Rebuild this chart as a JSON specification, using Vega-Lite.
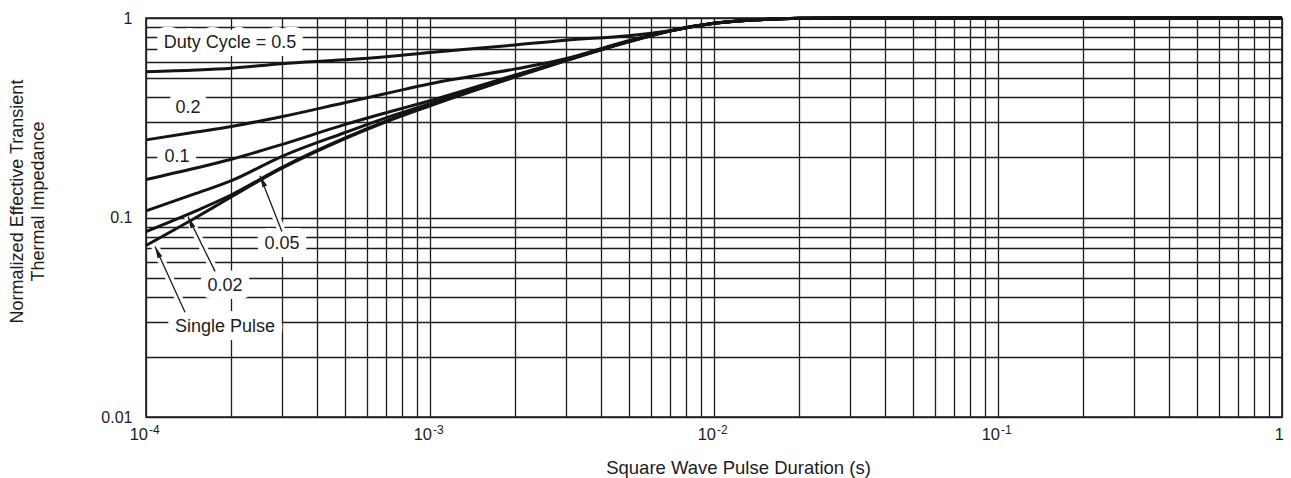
{
  "$schema": "https://vega.github.io/schema/vega-lite/v6.json",
  "width": 1136,
  "height": 399,
  "autosize": {"type": "none"},
  "padding": {"left": 146, "top": 18, "right": 9, "bottom": 61},
  "background": "white",
  "config": {
    "font": "Liberation Sans",
    "view": {"stroke": "#1c1c1c", "strokeWidth": 1.6},
    "axis": {
      "grid": true,
      "gridColor": "#1c1c1c",
      "gridWidth": 1.3,
      "gridOpacity": 1,
      "ticks": false,
      "domain": false,
      "labelFont": "Liberation Sans",
      "labelFontSize": 16,
      "labelColor": "#1c1c1c",
      "labelOverlap": false,
      "labelBound": false,
      "labelFlush": false,
      "titleFont": "Liberation Sans",
      "titleFontWeight": "normal",
      "titleColor": "#1c1c1c"
    }
  },
  "datasets": {
    "curves": [
      {"t": 0.0001, "z": 0.537, "duty": "0.5"},
      {"t": 0.00015, "z": 0.548, "duty": "0.5"},
      {"t": 0.0002, "z": 0.56, "duty": "0.5"},
      {"t": 0.0003, "z": 0.59, "duty": "0.5"},
      {"t": 0.0005, "z": 0.617, "duty": "0.5"},
      {"t": 0.0007, "z": 0.64, "duty": "0.5"},
      {"t": 0.001, "z": 0.672, "duty": "0.5"},
      {"t": 0.002, "z": 0.733, "duty": "0.5"},
      {"t": 0.003, "z": 0.774, "duty": "0.5"},
      {"t": 0.005, "z": 0.815, "duty": "0.5"},
      {"t": 0.007, "z": 0.864, "duty": "0.5"},
      {"t": 0.01, "z": 0.94, "duty": "0.5"},
      {"t": 0.015, "z": 0.983, "duty": "0.5"},
      {"t": 0.02, "z": 0.996, "duty": "0.5"},
      {"t": 0.03, "z": 1, "duty": "0.5"},
      {"t": 1, "z": 1, "duty": "0.5"},

      {"t": 0.0001, "z": 0.245, "duty": "0.2"},
      {"t": 0.00015, "z": 0.268, "duty": "0.2"},
      {"t": 0.0002, "z": 0.286, "duty": "0.2"},
      {"t": 0.0003, "z": 0.32, "duty": "0.2"},
      {"t": 0.0005, "z": 0.376, "duty": "0.2"},
      {"t": 0.0007, "z": 0.418, "duty": "0.2"},
      {"t": 0.001, "z": 0.468, "duty": "0.2"},
      {"t": 0.002, "z": 0.556, "duty": "0.2"},
      {"t": 0.003, "z": 0.625, "duty": "0.2"},
      {"t": 0.005, "z": 0.77, "duty": "0.2"},
      {"t": 0.007, "z": 0.862, "duty": "0.2"},
      {"t": 0.01, "z": 0.94, "duty": "0.2"},
      {"t": 0.015, "z": 0.983, "duty": "0.2"},
      {"t": 0.02, "z": 0.996, "duty": "0.2"},
      {"t": 0.03, "z": 1, "duty": "0.2"},
      {"t": 1, "z": 1, "duty": "0.2"},

      {"t": 0.0001, "z": 0.155, "duty": "0.1"},
      {"t": 0.00015, "z": 0.177, "duty": "0.1"},
      {"t": 0.0002, "z": 0.196, "duty": "0.1"},
      {"t": 0.0003, "z": 0.232, "duty": "0.1"},
      {"t": 0.0005, "z": 0.292, "duty": "0.1"},
      {"t": 0.0007, "z": 0.335, "duty": "0.1"},
      {"t": 0.001, "z": 0.385, "duty": "0.1"},
      {"t": 0.002, "z": 0.519, "duty": "0.1"},
      {"t": 0.003, "z": 0.615, "duty": "0.1"},
      {"t": 0.005, "z": 0.765, "duty": "0.1"},
      {"t": 0.007, "z": 0.862, "duty": "0.1"},
      {"t": 0.01, "z": 0.94, "duty": "0.1"},
      {"t": 0.015, "z": 0.983, "duty": "0.1"},
      {"t": 0.02, "z": 0.996, "duty": "0.1"},
      {"t": 0.03, "z": 1, "duty": "0.1"},
      {"t": 1, "z": 1, "duty": "0.1"},

      {"t": 0.0001, "z": 0.108, "duty": "0.05"},
      {"t": 0.00015, "z": 0.132, "duty": "0.05"},
      {"t": 0.0002, "z": 0.153, "duty": "0.05"},
      {"t": 0.0003, "z": 0.202, "duty": "0.05"},
      {"t": 0.0005, "z": 0.266, "duty": "0.05"},
      {"t": 0.0007, "z": 0.316, "duty": "0.05"},
      {"t": 0.001, "z": 0.372, "duty": "0.05"},
      {"t": 0.002, "z": 0.513, "duty": "0.05"},
      {"t": 0.003, "z": 0.613, "duty": "0.05"},
      {"t": 0.005, "z": 0.763, "duty": "0.05"},
      {"t": 0.007, "z": 0.861, "duty": "0.05"},
      {"t": 0.01, "z": 0.94, "duty": "0.05"},
      {"t": 0.015, "z": 0.983, "duty": "0.05"},
      {"t": 0.02, "z": 0.996, "duty": "0.05"},
      {"t": 0.03, "z": 1, "duty": "0.05"},
      {"t": 1, "z": 1, "duty": "0.05"},

      {"t": 0.0001, "z": 0.085, "duty": "0.02"},
      {"t": 0.00015, "z": 0.108, "duty": "0.02"},
      {"t": 0.0002, "z": 0.13, "duty": "0.02"},
      {"t": 0.0003, "z": 0.178, "duty": "0.02"},
      {"t": 0.0005, "z": 0.25, "duty": "0.02"},
      {"t": 0.0007, "z": 0.304, "duty": "0.02"},
      {"t": 0.001, "z": 0.365, "duty": "0.02"},
      {"t": 0.002, "z": 0.508, "duty": "0.02"},
      {"t": 0.003, "z": 0.611, "duty": "0.02"},
      {"t": 0.005, "z": 0.76, "duty": "0.02"},
      {"t": 0.007, "z": 0.861, "duty": "0.02"},
      {"t": 0.01, "z": 0.94, "duty": "0.02"},
      {"t": 0.015, "z": 0.983, "duty": "0.02"},
      {"t": 0.02, "z": 0.996, "duty": "0.02"},
      {"t": 0.03, "z": 1, "duty": "0.02"},
      {"t": 1, "z": 1, "duty": "0.02"},

      {"t": 0.0001, "z": 0.0724, "duty": "single"},
      {"t": 0.00015, "z": 0.1, "duty": "single"},
      {"t": 0.0002, "z": 0.127, "duty": "single"},
      {"t": 0.0003, "z": 0.176, "duty": "single"},
      {"t": 0.0005, "z": 0.248, "duty": "single"},
      {"t": 0.0007, "z": 0.302, "duty": "single"},
      {"t": 0.001, "z": 0.363, "duty": "single"},
      {"t": 0.002, "z": 0.507, "duty": "single"},
      {"t": 0.003, "z": 0.61, "duty": "single"},
      {"t": 0.005, "z": 0.759, "duty": "single"},
      {"t": 0.007, "z": 0.861, "duty": "single"},
      {"t": 0.01, "z": 0.94, "duty": "single"},
      {"t": 0.015, "z": 0.983, "duty": "single"},
      {"t": 0.02, "z": 0.996, "duty": "single"},
      {"t": 0.03, "z": 1, "duty": "single"},
      {"t": 1, "z": 1, "duty": "single"}
    ],
    "arrows": [
      {"t": 0.000252, "z": 0.162, "t2": 0.000301, "z2": 0.0851},
      {"t": 0.0001406, "z": 0.101, "t2": 0.000175, "z2": 0.0537},
      {"t": 0.0001076, "z": 0.0716, "t2": 0.0001372, "z2": 0.0335}
    ],
    "labels": [
      {"t": 0.0001977, "z": 0.747, "text": "Duty Cycle = 0.5"},
      {"t": 0.0001406, "z": 0.355, "text": "0.2"},
      {"t": 0.0001286, "z": 0.2, "text": "0.1"},
      {"t": 0.000301, "z": 0.0733, "text": "0.05"},
      {"t": 0.0001897, "z": 0.0452, "text": "0.02"},
      {"t": 0.0001897, "z": 0.0282, "text": "Single Pulse"}
    ],
    "decades": [
      {"t": 0.0001, "z": 0.01, "base": "10", "exp": "-4"},
      {"t": 0.001, "z": 0.01, "base": "10", "exp": "-3"},
      {"t": 0.01, "z": 0.01, "base": "10", "exp": "-2"},
      {"t": 0.1, "z": 0.01, "base": "10", "exp": "-1"},
      {"t": 1, "z": 0.01, "base": "1", "exp": " "}
    ]
  },
  "encoding": {
    "x": {
      "field": "t",
      "type": "quantitative",
      "scale": {"type": "log", "domain": [0.0001, 1], "nice": false},
      "axis": {
        "values": [0.0001, 0.0002, 0.0003, 0.0004, 0.0005, 0.0006, 0.0007, 0.0008, 0.0009,
                   0.001, 0.002, 0.003, 0.004, 0.005, 0.006, 0.007, 0.008, 0.009,
                   0.01, 0.02, 0.03, 0.04, 0.05, 0.06, 0.07, 0.08, 0.09,
                   0.1, 0.2, 0.3, 0.4, 0.5, 0.6, 0.7, 0.8, 0.9, 1],
        "labels": false,
        "title": "Square Wave Pulse Duration (s)",
        "titleFontSize": 18.5,
        "titleX": 592,
        "titleY": 50,
        "titleBaseline": "middle",
        "titleAlign": "center"
      }
    },
    "y": {
      "field": "z",
      "type": "quantitative",
      "scale": {"type": "log", "domain": [0.01, 1], "nice": false},
      "axis": {
        "values": [0.01, 0.02, 0.03, 0.04, 0.05, 0.06, 0.07, 0.08, 0.09,
                   0.1, 0.2, 0.3, 0.4, 0.5, 0.6, 0.7, 0.8, 0.9, 1],
        "labelExpr": "datum.value == 1 ? '1' : datum.value == 0.1 ? '0.1' : datum.value == 0.01 ? '0.01' : ''",
        "labelPadding": 14,
        "title": ["Normalized Effective Transient", "Thermal Impedance"],
        "titleFontSize": 18,
        "titleAngle": -90,
        "titleX": -128.5,
        "titleY": 183,
        "titleAlign": "center",
        "titleBaseline": "middle",
        "titleLineHeight": 20.5
      }
    }
  },
  "layer": [
    {
      "data": {"name": "arrows"},
      "mark": {"type": "rule", "stroke": "white", "strokeWidth": 8, "strokeCap": "round"},
      "encoding": {"x2": {"field": "t2"}, "y2": {"field": "z2"}}
    },
    {
      "data": {"name": "labels"},
      "mark": {"type": "text", "fontSize": 18, "stroke": "white", "strokeWidth": 16, "strokeJoin": "round", "fill": "white", "align": "center", "baseline": "middle"},
      "encoding": {"text": {"field": "text"}}
    },
    {
      "data": {"name": "curves"},
      "mark": {"type": "line", "stroke": "#141414", "strokeWidth": 3, "interpolate": "monotone"},
      "encoding": {"detail": {"field": "duty"}}
    },
    {
      "data": {"name": "arrows"},
      "mark": {"type": "rule", "stroke": "#1c1c1c", "strokeWidth": 1.3},
      "encoding": {"x2": {"field": "t2"}, "y2": {"field": "z2"}}
    },
    {
      "data": {"name": "arrows"},
      "mark": {"type": "point", "shape": "M0,0L-0.35,1.6L0.35,1.6Z", "size": 220, "filled": true, "fill": "#1c1c1c", "opacity": 1, "strokeWidth": 0, "angle": -24},
      "encoding": {}
    },
    {
      "data": {"name": "labels"},
      "mark": {"type": "text", "fontSize": 18, "fill": "#1c1c1c", "align": "center", "baseline": "middle"},
      "encoding": {"text": {"field": "text"}}
    },
    {
      "data": {"name": "decades"},
      "mark": {"type": "text", "fontSize": 16.5, "fill": "#1c1c1c", "align": "right", "baseline": "top", "dx": 2, "dy": 10},
      "encoding": {"text": {"field": "base"}}
    },
    {
      "data": {"name": "decades"},
      "mark": {"type": "text", "fontSize": 12, "fill": "#1c1c1c", "align": "left", "baseline": "top", "dx": 3, "dy": 8},
      "encoding": {"text": {"field": "exp"}}
    }
  ]
}
